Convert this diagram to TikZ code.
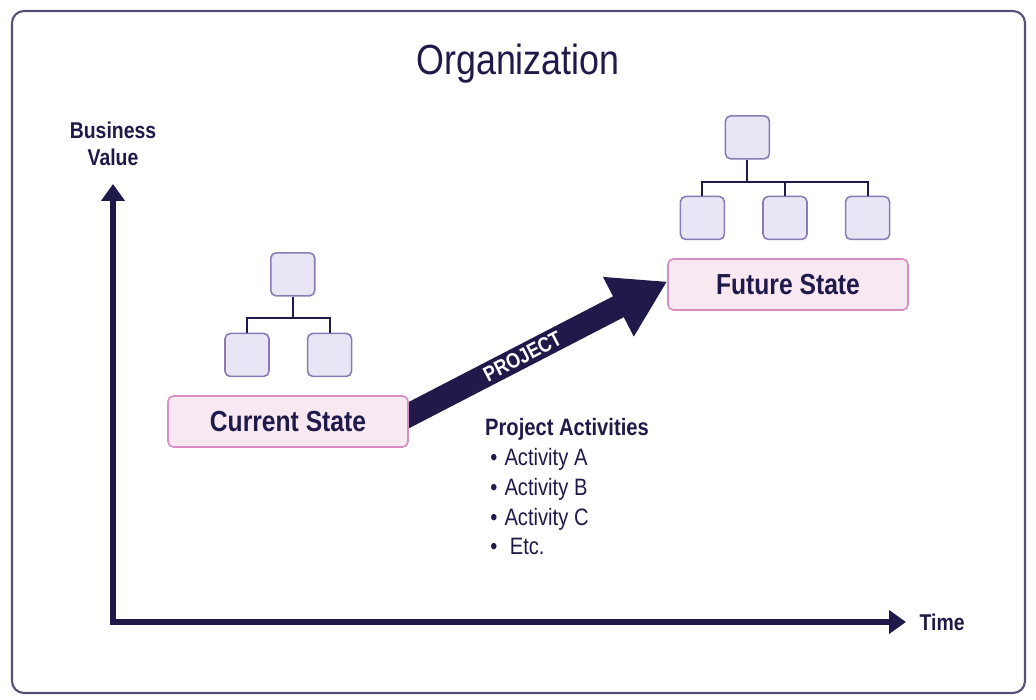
\documentclass[tikz,border=0pt]{standalone}
\usepackage{fontspec}
\setmainfont{Liberation Sans}[FakeStretch=0.85]
\usetikzlibrary{arrows.meta, positioning, calc, backgrounds}

\definecolor{navy}{HTML}{1F1A4A}
\definecolor{statefill}{HTML}{F8E8F2}
\definecolor{stateline}{HTML}{D68DC1}
\definecolor{orgfill}{HTML}{E8E6F4}
\definecolor{orgline}{HTML}{8B7BB5}
\definecolor{framecol}{HTML}{55527A}

\begin{document}
\begin{tikzpicture}[
    x=0.02cm, y=-0.02cm,
    frame/.style={draw=framecol, line width=1.2pt, rounded corners=0.24cm, fill=white},
    title/.style={font=\fontsize{24}{28}\selectfont, text=navy},
    state/.style={
        rectangle, rounded corners=3pt, draw=stateline, line width=0.9pt,
        minimum width=4.8cm, minimum height=1.02cm,
        fill=statefill, font=\fontsize{16.5}{20}\selectfont\bfseries, text=navy
    },
    orgbox/.style={
        rectangle, rounded corners=3pt, draw=orgline, line width=0.9pt,
        minimum width=0.88cm, minimum height=0.86cm, fill=orgfill
    },
    link/.style={draw=navy, line width=1.1pt},
    axis/.style={draw=navy, line width=0.13cm,
        {Triangle[length=0.34cm,width=0.46cm]}-{Triangle[length=0.34cm,width=0.46cm]}},
    project/.style={draw=navy, line width=0.47cm, -{Triangle[length=1.1cm,width=1.26cm]}},
    axislabel/.style={font=\fontsize{13}{15.5}\selectfont\bfseries, text=navy, align=center},
    activities/.style={font=\fontsize{13.5}{17}\selectfont, text=navy, align=left}
]
\useasboundingbox (0,0) rectangle (1036,700);

% Frame
\begin{scope}[on background layer]
\draw[frame] (12,11) rectangle (1025,693);
\end{scope}

\node[title] (title) at (518,64) {Organization};

% Axes
\coordinate (origin) at (113,622);
\coordinate (ytop) at (113,184);
\coordinate (xend) at (906,622);
\draw[axis] (ytop) -- (origin) -- (xend);
\node[axislabel, above=0.24cm of ytop] (yname) {Business\\Value};
\node[axislabel, right=0.15cm of xend] (xname) {Time};

% Current state
\node[state] (current) at (288,421.5) {Current State};
\node[orgbox, above=0.36cm of current, xshift=-0.82cm] (cl) {};
\node[orgbox, right=0.74cm of cl] (cr) {};
\coordinate (cmid) at ($(cl.north)!0.5!(cr.north)$);
\node[orgbox, above=0.72cm of cmid, xshift=0.09cm] (ctop) {};
\coordinate (cjoin) at ($(ctop.south)+(0,21)$);
\draw[link] (ctop.south) -- (cjoin);
\draw[link] (cl.north) |- (cjoin) -| (cr.north);

% Future state
\node[state] (future) at (788,284.5) {Future State};
\node[orgbox, above=0.36cm of future, xshift=-0.06cm] (fm) {};
\node[orgbox, left=0.74cm of fm] (fl) {};
\node[orgbox, right=0.74cm of fm] (fr) {};
\node[orgbox, above=0.72cm of fl.north, xshift=0.9cm] (ftop) {};
\coordinate (fjoin) at ($(ftop.south)+(0,22)$);
\draw[link] (ftop.south) -- (fjoin);
\draw[link] (fl.north) |- (fjoin) -| (fr.north);
\draw[link] (fm.north) -- (fm.north |- fjoin);

% Project arrow
\begin{scope}[on background layer]
\draw[project] ([xshift=-0.4cm, yshift=-0.08cm]current.east) --
    node[pos=0.48, sloped, text=white, inner sep=0pt, font=\fontsize{12}{13}\selectfont\bfseries] (projtext) {PROJECT}
    ([yshift=0.06cm]future.west);
\end{scope}

% Activities
\node[activities, anchor=north west] (acts) at (479,412) {%
    \textbf{Project Activities}\\
    \hspace*{3pt}\textbullet\hspace{4pt}Activity A\\
    \hspace*{3pt}\textbullet\hspace{4pt}Activity B\\
    \hspace*{3pt}\textbullet\hspace{4pt}Activity C\\
    \hspace*{3pt}\textbullet\hspace{7pt}Etc.};

\end{tikzpicture}
\end{document}
